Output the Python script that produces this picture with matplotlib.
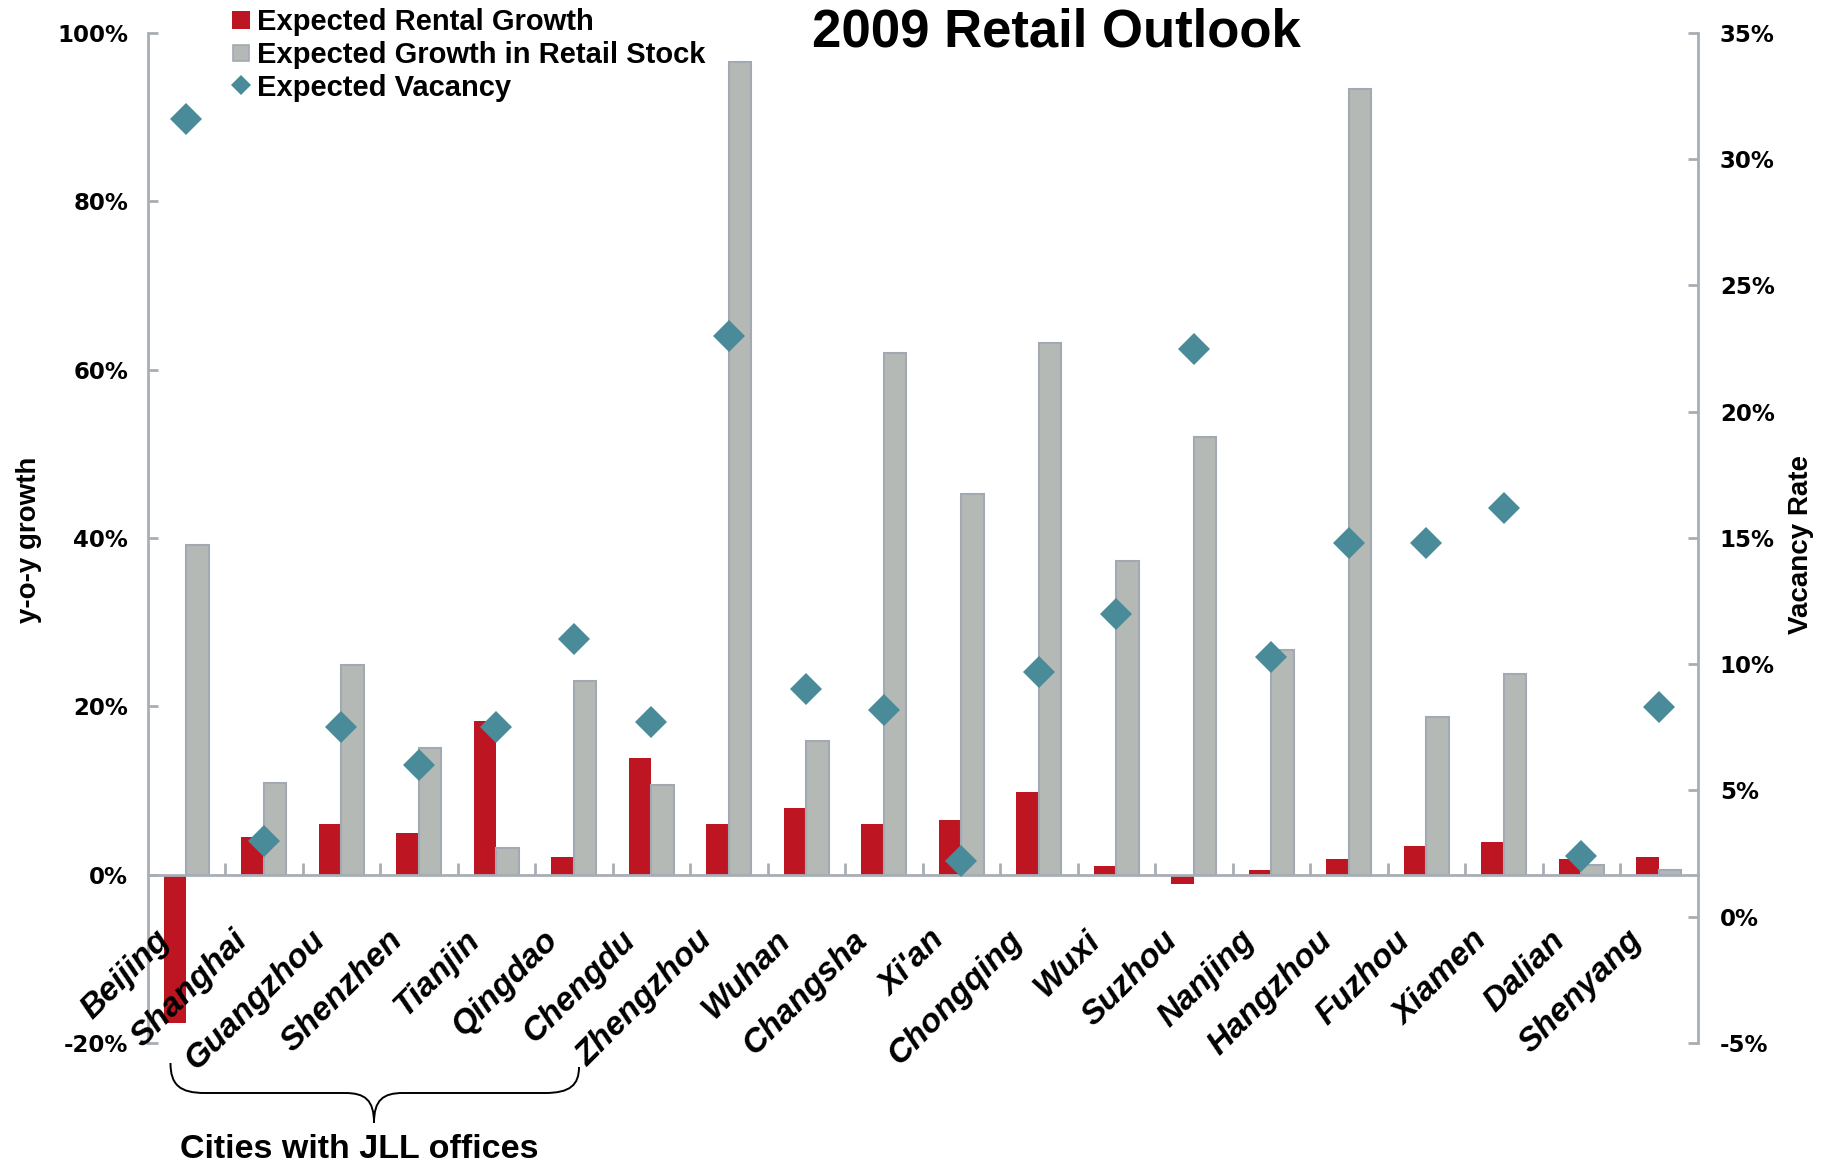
import matplotlib
matplotlib.use("Agg")
import matplotlib.pyplot as plt
from matplotlib.lines import Line2D
from matplotlib.patches import PathPatch
from matplotlib.path import Path
from matplotlib.transforms import offset_copy

# ---- data -------------------------------------------------------------
cities = ["Beijing", "Shanghai", "Guangzhou", "Shenzhen", "Tianjin", "Qingdao",
          "Chengdu", "Zhengzhou", "Wuhan", "Changsha", "Xi'an", "Chongqing",
          "Wuxi", "Suzhou", "Nanjing", "Hangzhou", "Fuzhou", "Xiamen",
          "Dalian", "Shenyang"]
rental_growth = [-17.6, 4.5, 6.0, 5.0, 18.2, 2.1, 13.9, 6.0, 7.9, 6.0,
                 6.5, 9.8, 1.0, -1.1, 0.6, 1.9, 3.4, 3.9, 1.9, 2.1]
stock_growth = [39.2, 10.9, 24.9, 15.1, 3.2, 23.0, 10.6, 96.5, 15.9, 62.0,
                45.2, 63.1, 37.2, 52.0, 26.7, 93.3, 18.7, 23.8, 1.1, 0.6]
vacancy = [31.6, 3.0, 7.5, 6.0, 7.5, 11.0, 7.7, 23.0, 9.0, 8.2,
           2.2, 9.7, 12.0, 22.5, 10.3, 14.8, 14.8, 16.2, 2.4, 8.3]
left_ticks = [-20, 0, 20, 40, 60, 80, 100]
right_ticks = [-5, 0, 5, 10, 15, 20, 25, 30, 35]
series_names = ["Expected Rental Growth", "Expected Growth in Retail Stock",
                "Expected Vacancy"]

# ---- style ------------------------------------------------------------
RED = "#BD1622"
GREY = "#B5B9B6"
GREY_EDGE = "#A2A9B2"
TEAL = "#4A8B9A"
AXIS = "#A8AEB6"
SANS = ["Liberation Sans", "DejaVu Sans"]

fig = plt.figure(figsize=(18.25, 11.69), dpi=100)
ax = fig.add_axes([0.0809, 0.1078, 0.8493, 0.8641])
ax2 = ax.twinx()

x = list(range(len(cities)))
w = 0.29
ax.bar([i - 0.145 for i in x], rental_growth, width=w, color=RED,
       linewidth=0, zorder=2)
ax.bar([i + 0.145 for i in x], stock_growth, width=w, color=GREY,
       edgecolor=GREY_EDGE, linewidth=1.5, zorder=2)
ax2.plot(x, vacancy, linestyle="none", marker="D", markersize=16.5,
         color=TEAL, markeredgewidth=0, zorder=5)

# ---- axes -------------------------------------------------------------
ax.set_xlim(-0.5, len(cities) - 0.5)
ax.set_ylim(-20, 100)
ax2.set_ylim(-5, 35)

for a in (ax, ax2):
    a.spines["top"].set_visible(False)
    for s in a.spines.values():
        s.set_color(AXIS)
        s.set_linewidth(2)
ax.spines["right"].set_visible(False)
ax2.spines["left"].set_visible(False)
ax2.spines["bottom"].set_visible(False)
ax.spines["bottom"].set_position(("data", 0))
ax.spines["bottom"].set_zorder(4)

ax.set_yticks(left_ticks)
ax.set_yticklabels([f"{v}%" for v in left_ticks])
ax2.set_yticks(right_ticks)
ax2.set_yticklabels([f"{v}%" for v in right_ticks])
ax.tick_params(axis="y", direction="in", length=7, width=2, color=AXIS,
               pad=14, labelsize=16.5)
ax2.tick_params(axis="y", direction="in", length=7, width=2, color=AXIS,
                pad=16, labelsize=16.5)
for lab in ax.get_yticklabels() + ax2.get_yticklabels():
    lab.set_fontfamily("DejaVu Sans")
    lab.set_fontweight("bold")

ax.set_xticks(x)
ax.set_xticklabels([])
ax.tick_params(axis="x", which="major", length=0)
ax.set_xticks([i + 0.5 for i in x[:-1]], minor=True)
ax.tick_params(axis="x", which="minor", direction="in", length=8.5,
               width=2, color=AXIS)

# category labels hung under the zero line
lab_tr = offset_copy(ax.transData, fig=fig, x=-21, y=-61, units="dots")
for i, name in enumerate(cities):
    ax.text(i, 0, name, transform=lab_tr, rotation=45, rotation_mode="anchor",
            ha="right", va="center", fontsize=24, fontweight="bold",
            fontstyle="italic", family=SANS, zorder=6)

# ---- text -------------------------------------------------------------
fig.text(0.5786, 0.972, "2009 Retail Outlook", ha="center", va="center",
         fontsize=38, fontweight="bold", family=SANS)
fig.text(0.016, 0.538, "y-o-y growth", rotation=90, ha="center",
         va="center", fontsize=20, fontweight="bold", family=SANS)
fig.text(0.987, 0.534, "Vacancy Rate", rotation=90, ha="center",
         va="center", fontsize=20, fontweight="bold", family=SANS)

handles = [
    Line2D([], [], linestyle="none", marker="s", markersize=13,
           markerfacecolor=RED, markeredgewidth=0),
    Line2D([], [], linestyle="none", marker="s", markersize=12,
           markerfacecolor=GREY, markeredgecolor=GREY_EDGE,
           markeredgewidth=1.2),
    Line2D([], [], linestyle="none", marker="D", markersize=9.7,
           markerfacecolor=TEAL, markeredgewidth=0),
]
leg = fig.legend(handles, series_names, loc="upper left",
                 bbox_to_anchor=(0.1265, 0.993), frameon=False,
                 handlelength=0.7, handletextpad=0.2, labelspacing=0.16,
                 borderpad=0.0, borderaxespad=0.0,
                 prop={"family": SANS, "weight": "bold", "size": 21})

# brace grouping the cities with offices
W, H = 1825.0, 1169.0
pts = [(170.5, 1063), (170.5, 1085), (180, 1093), (205, 1093),
       (345, 1093),
       (365, 1093), (374, 1100), (374, 1123),
       (374, 1100), (383, 1093), (403, 1093),
       (545, 1093),
       (570, 1093), (579, 1085), (579, 1067)]
codes = [Path.MOVETO, Path.CURVE4, Path.CURVE4, Path.CURVE4,
         Path.LINETO,
         Path.CURVE4, Path.CURVE4, Path.CURVE4,
         Path.CURVE4, Path.CURVE4, Path.CURVE4,
         Path.LINETO,
         Path.CURVE4, Path.CURVE4, Path.CURVE4]
brace = Path([(px / W, 1 - py / H) for px, py in pts], codes)
fig.add_artist(PathPatch(brace, transform=fig.transFigure, facecolor="none",
                         edgecolor="black", linewidth=1.4))
fig.text(0.197, 0.0163, "Cities with JLL offices", ha="center", va="center",
         fontsize=24.5, fontweight="bold", family=SANS)

fig.savefig("out.png", dpi=100)
